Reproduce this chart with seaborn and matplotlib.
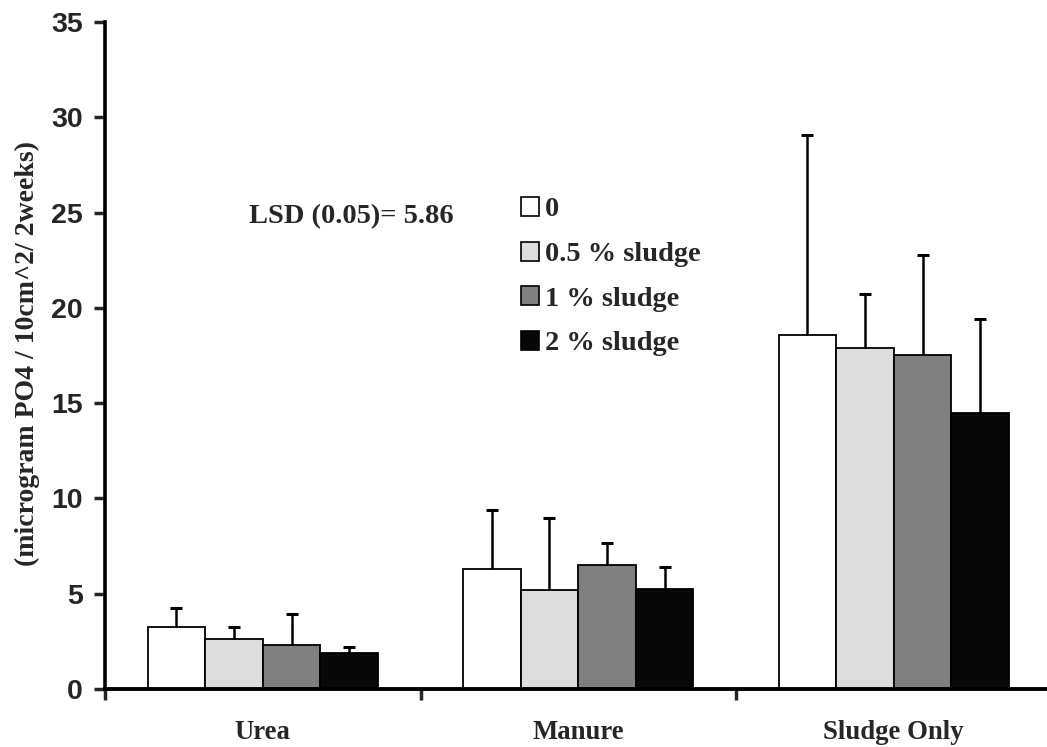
import matplotlib
matplotlib.use("Agg")
import matplotlib.pyplot as plt
import seaborn as sns
import pandas as pd
import numpy as np
from matplotlib.patches import Patch

categories = ["Urea", "Manure", "Sludge Only"]
treatments = ["0", "0.5 % sludge", "1 % sludge", "2 % sludge"]
means_0 = [3.25, 6.30, 18.56]
means_05 = [2.62, 5.19, 17.91]
means_1 = [2.31, 6.51, 17.52]
means_2 = [1.89, 5.26, 14.50]
tops_0 = [4.25, 9.37, 29.07]
tops_05 = [3.25, 8.99, 20.74]
tops_1 = [3.92, 7.64, 22.79]
tops_2 = [2.20, 6.42, 19.43]
colors = ["#FFFFFF", "#DDDDDD", "#808080", "#080808"]

means = [means_0, means_05, means_1, means_2]
tops = [tops_0, tops_05, tops_1, tops_2]

rows = []
for t, m in zip(treatments, means):
    for c, v in zip(categories, m):
        rows.append({"cat": c, "trt": t, "val": v})
df = pd.DataFrame(rows)

sns.set_style("white")
plt.rcParams["font.family"] = ["Liberation Serif", "DejaVu Serif"]

fig = plt.figure(figsize=(10.47, 7.47), dpi=100)
ax = fig.add_axes([105/1047, (747-689)/747, (1047-105)/1047, (689-22)/747])

sns.barplot(data=df, x="cat", y="val", hue="trt", order=categories,
            hue_order=treatments, palette=colors, width=0.73, gap=0,
            edgecolor="black", linewidth=1.3, errorbar=None, legend=False, ax=ax)

for cont, tp in zip(ax.containers, tops):
    xs = [p.get_x() + p.get_width() / 2 for p in cont.patches]
    hs = [p.get_height() for p in cont.patches]
    err = [t - h for t, h in zip(tp, hs)]
    eb = ax.errorbar(xs, hs, yerr=[np.zeros(len(err)), err], fmt="none",
                     ecolor="black", elinewidth=1.8, capsize=4, capthick=2.2, zorder=1)
    for cl in eb[1]:
        if np.allclose(cl.get_ydata(), hs):
            cl.set_visible(False)

ax.set_ylim(0, 35)
ax.set_xlim(-0.5, -0.5 + (1047-105)/315.5)
ax.set_yticks(range(0, 36, 5))
ax.set_yticklabels([str(v) for v in range(0, 36, 5)],
                   fontfamily="Liberation Sans", fontweight="bold", fontsize=20.5)
ax.set_xticks([0, 1, 2])
ax.set_xticklabels(categories, fontfamily="Liberation Serif", fontweight="bold", fontsize=19.3)
ax.set_xticks([-0.5, 0.5, 1.5], minor=True)
ax.tick_params(axis="x", which="major", length=0, pad=22)
ax.tick_params(axis="x", which="minor", length=8, width=2.5, direction="out", bottom=True)
ax.tick_params(axis="y", length=8, width=2.5, direction="out", left=True, pad=8)
ax.set_xlabel("")
ax.set_ylabel("")

for s in ["top", "right"]:
    ax.spines[s].set_visible(False)
ax.spines["left"].set_linewidth(2.6)
ax.spines["bottom"].set_linewidth(2.8)
ax.spines["left"].set_color("black")
ax.spines["bottom"].set_color("black")

fig.text(27/1047, (747-353)/747, "(microgram PO4 / 10cm^2/ 2weeks)", rotation=90,
         ha="center", va="center", fontsize=20, fontweight="bold")
fig.text(249/1047, (747-217)/747, "LSD (0.05)= 5.86", ha="left", va="center",
         fontsize=20.5, fontweight="bold")

handles = [Patch(facecolor=c, edgecolor="black", linewidth=1.2, label=t)
           for c, t in zip(colors, treatments)]
leg = fig.legend(handles=handles, loc="upper left", bbox_to_anchor=(521/1047, (747-197)/747),
                 frameon=False, borderpad=0, borderaxespad=0, handlelength=0.65,
                 handleheight=0.65, handletextpad=0.18, labelspacing=0.68,
                 prop={"family": "Liberation Serif", "weight": "bold", "size": 20.4})

fig.savefig("out.png", dpi=100)
